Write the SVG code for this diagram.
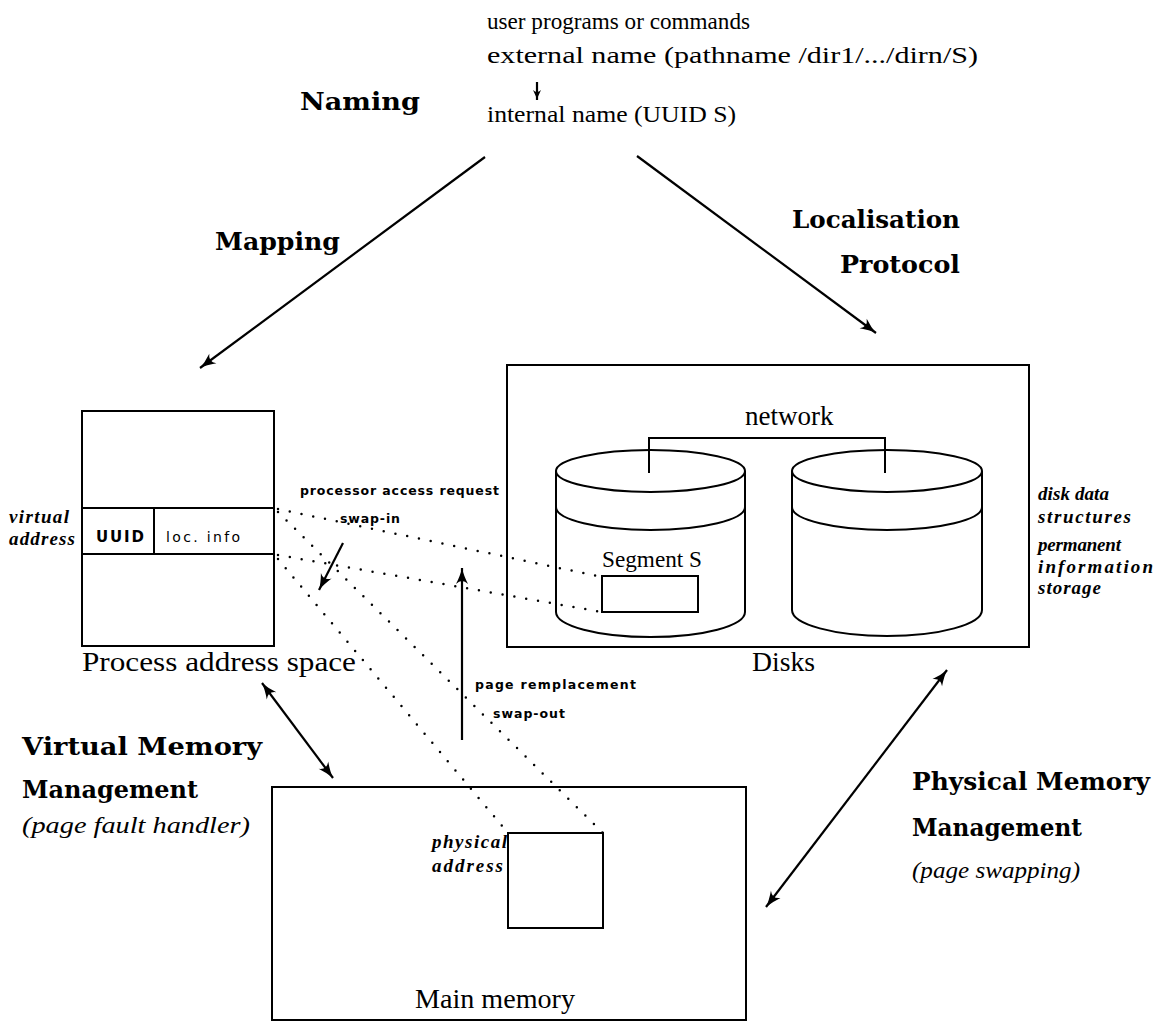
<svg xmlns="http://www.w3.org/2000/svg" width="1162" height="1023" viewBox="0 0 1162 1023">
<style>
.rm{font-family:"Liberation Serif",serif;fill:#000}
.bd{font-family:"DejaVu Serif","Liberation Serif",serif;font-weight:bold;fill:#000}
.it{font-family:"Liberation Serif",serif;font-style:italic;fill:#000}
.si{font-family:"Liberation Serif",serif;font-style:italic;font-weight:bold;font-size:19px;letter-spacing:1px;fill:#000}
.sm{font-family:"DejaVu Sans","Liberation Sans",sans-serif;font-weight:bold;font-size:12.5px;fill:#000}
.ln{fill:none;stroke:#000;stroke-width:2}
.ar{fill:none;stroke:#000;stroke-width:2.2}
.dt{fill:none;stroke:#000;stroke-width:2.5;stroke-linecap:round;stroke-dasharray:0 12}
</style>
<defs>
<marker id="ah" viewBox="-17 -7 18 14" refX="0" refY="0" markerWidth="18" markerHeight="14" markerUnits="userSpaceOnUse" orient="auto-start-reverse">
<path d="M-16,-6 Q-7,-1.5 0,0 Q-7,1.5 -16,6 Q-10,0 -16,-6 Z" fill="#000"/>
</marker>
<marker id="ahs" viewBox="-11 -5 12 10" refX="0" refY="0" markerWidth="12" markerHeight="10" markerUnits="userSpaceOnUse" orient="auto">
<path d="M-10,-4 Q-4,-1 0,0 Q-4,1 -10,4 Q-6,0 -10,-4 Z" fill="#000"/>
</marker>
</defs>
<rect width="1162" height="1023" fill="#fff"/>

<g id="naming">
<text class="rm" x="487" y="29" font-size="23" textLength="263" lengthAdjust="spacingAndGlyphs">user programs or commands</text>
<text class="rm" x="487" y="63" font-size="24" textLength="491" lengthAdjust="spacingAndGlyphs">external name (pathname /dir1/.../dirn/S)</text>
<text class="rm" x="487" y="122" font-size="23" textLength="249" lengthAdjust="spacingAndGlyphs">internal name (UUID S)</text>
<text class="bd" x="300" y="110" font-size="25" textLength="120" lengthAdjust="spacingAndGlyphs">Naming</text>
</g>

<g id="labels">
<text class="bd" x="215" y="250" font-size="24" textLength="125" lengthAdjust="spacingAndGlyphs">Mapping</text>
<text class="bd" x="792" y="228" font-size="24" textLength="168" lengthAdjust="spacingAndGlyphs">Localisation</text>
<text class="bd" x="840" y="273" font-size="24" textLength="120" lengthAdjust="spacingAndGlyphs">Protocol</text>
<text class="bd" x="22" y="755" font-size="25" textLength="240" lengthAdjust="spacingAndGlyphs">Virtual Memory</text>
<text class="bd" x="22" y="798" font-size="25" textLength="176" lengthAdjust="spacingAndGlyphs">Management</text>
<text class="it" x="22" y="833" font-size="23" textLength="228" lengthAdjust="spacingAndGlyphs">(page fault handler)</text>
<text class="bd" x="912" y="790" font-size="25" textLength="238" lengthAdjust="spacingAndGlyphs">Physical Memory</text>
<text class="bd" x="912" y="836" font-size="25" textLength="170" lengthAdjust="spacingAndGlyphs">Management</text>
<text class="it" x="912" y="878" font-size="23" textLength="168" lengthAdjust="spacingAndGlyphs">(page swapping)</text>
<text class="sm" x="300" y="495" textLength="199" lengthAdjust="spacing">processor access request</text>
<text class="sm" x="340" y="523" textLength="60" lengthAdjust="spacing">swap-in</text>
<text class="sm" x="475" y="689" textLength="161" lengthAdjust="spacing">page remplacement</text>
<text class="sm" x="493" y="718" textLength="72" lengthAdjust="spacing">swap-out</text>
</g>

<g id="process-address-space">
<rect class="ln" x="82" y="411" width="192" height="235"/>
<line class="ln" x1="82" y1="508" x2="274" y2="508"/>
<line class="ln" x1="82" y1="554" x2="274" y2="554"/>
<line class="ln" x1="154" y1="508" x2="154" y2="554"/>
<text class="sm" x="96" y="542" style="font-size:15px" textLength="48" lengthAdjust="spacing">UUID</text>
<text class="sm" x="166" y="542" style="font-size:14px;font-weight:normal" textLength="74" lengthAdjust="spacing">loc. info</text>
<text class="si" x="9" y="523" textLength="61" lengthAdjust="spacing">virtual</text>
<text class="si" x="9" y="545" textLength="67" lengthAdjust="spacing">address</text>
<text class="rm" x="82" y="671" font-size="27" textLength="274" lengthAdjust="spacingAndGlyphs">Process address space</text>
</g>

<g id="disks">
<rect class="ln" x="507" y="365" width="522" height="282"/>
<text class="rm" x="745" y="425" font-size="27">network</text>
<path class="ln" d="M649,473 V438 H885 V473"/>
<g id="disk-left">
<ellipse class="ln" cx="650.5" cy="471" rx="94.5" ry="21"/>
<path class="ln" d="M556,471 V612 M745,471 V612"/>
<path class="ln" d="M556,507 A94.5 23 0 0 0 745,507"/>
<path class="ln" d="M556,612 A94.5 25 0 0 0 745,612"/>
<text class="rm" x="602" y="567" font-size="23" textLength="100" lengthAdjust="spacingAndGlyphs">Segment S</text>
<rect class="ln" x="602" y="576" width="96" height="36"/>
</g>
<g id="disk-right">
<ellipse class="ln" cx="887" cy="471" rx="95" ry="21"/>
<path class="ln" d="M792,471 V610 M982,471 V610"/>
<path class="ln" d="M792,507 A95 23 0 0 0 982,507"/>
<path class="ln" d="M792,610 A95 26 0 0 0 982,610"/>
</g>
<text class="rm" x="752" y="671" font-size="27" textLength="63" lengthAdjust="spacingAndGlyphs">Disks</text>
<text class="si" x="1038" y="500" textLength="72" lengthAdjust="spacing">disk data</text>
<text class="si" x="1038" y="523" textLength="94" lengthAdjust="spacing">structures</text>
<text class="si" x="1038" y="551" textLength="84" lengthAdjust="spacing">permanent</text>
<text class="si" x="1038" y="573" textLength="116" lengthAdjust="spacing">information</text>
<text class="si" x="1038" y="594" textLength="64" lengthAdjust="spacing">storage</text>
</g>

<g id="main-memory">
<rect class="ln" x="272" y="787" width="474" height="233"/>
<rect class="ln" x="508" y="833" width="95" height="95"/>
<text class="si" x="432" y="848" textLength="76" lengthAdjust="spacing">physical</text>
<text class="si" x="432" y="872" textLength="72" lengthAdjust="spacing">address</text>
<text class="rm" x="415" y="1008" font-size="27" textLength="160" lengthAdjust="spacingAndGlyphs">Main memory</text>
</g>

<g id="connectors">
<line class="ar" x1="537" y1="82" x2="537" y2="100" marker-end="url(#ahs)"/>
<line class="ar" x1="485" y1="157" x2="200" y2="368" marker-end="url(#ah)"/>
<line class="ar" x1="637" y1="156" x2="876" y2="333" marker-end="url(#ah)"/>
<line class="ar" x1="343" y1="543" x2="319" y2="590" marker-end="url(#ah)"/>
<line class="ar" x1="462" y1="740" x2="462" y2="568" marker-end="url(#ah)"/>
<line class="ar" x1="262" y1="683" x2="333" y2="778" marker-start="url(#ah)" marker-end="url(#ah)"/>
<line class="ar" x1="947" y1="670" x2="766" y2="907" marker-start="url(#ah)" marker-end="url(#ah)"/>
<line class="dt" x1="278" y1="509" x2="602" y2="577"/>
<line class="dt" x1="278" y1="555" x2="602" y2="612"/>
<line class="dt" x1="278" y1="512" x2="603" y2="833"/>
<line class="dt" x1="278" y1="559" x2="508" y2="833"/>
</g>
</svg>
